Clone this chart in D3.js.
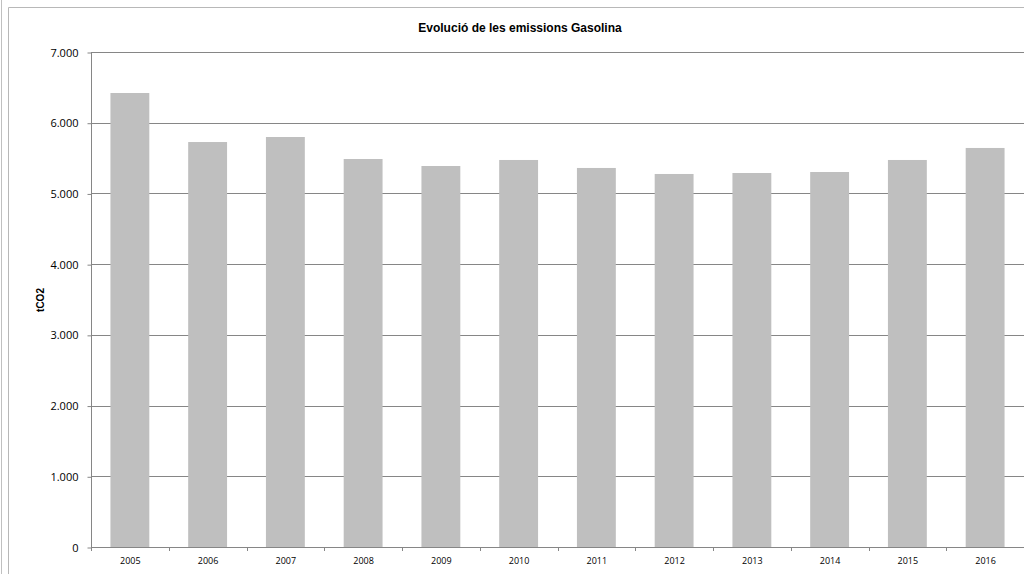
<!DOCTYPE html>
<html><head><meta charset="utf-8">
<script src="https://cdn.jsdelivr.net/npm/d3@7"></script>
<style>body{margin:0;background:#fff;}svg{display:block;}</style>
</head><body><svg width="1024" height="574"></svg>
<script>
const years = ["2005","2006","2007","2008","2009","2010","2011","2012","2013","2014","2015","2016"];
const emissions = [6420, 5727, 5798, 5487, 5388, 5473, 5360, 5275, 5289, 5303, 5473, 5643];
const yTicks = [0,1000,2000,3000,4000,5000,6000,7000];
const title = "Evolució de les emissions Gasolina";
const yLabel = "tCO2";

const svg = d3.select("svg");
const mLeft = 91, mRight = 1024, mTop = 52, mBottom = 547;
// chart frame
svg.append("line").attr("x1",1.5).attr("x2",1.5).attr("y1",0).attr("y2",574).attr("stroke","#c0c0c0");
svg.append("line").attr("x1",8.5).attr("x2",8.5).attr("y1",7.5).attr("y2",574).attr("stroke","#b8b8b8");
svg.append("line").attr("x1",8.5).attr("x2",1024).attr("y1",7.5).attr("y2",7.5).attr("stroke","#b8b8b8");

const x = d3.scaleBand().domain(years).range([mLeft,mRight]).paddingInner(0.5).paddingOuter(0.25);
const y = d3.scaleLinear().domain([0,7000]).range([mBottom,mTop]);
const fmt = d => d3.format(",")(d).replace(/,/g,".");

// gridlines
svg.append("g").selectAll("line").data(yTicks.filter(d=>d>0)).join("line")
  .attr("x1",mLeft).attr("x2",mRight).attr("y1",d=>Math.round(y(d))+0.5).attr("y2",d=>Math.round(y(d))+0.5)
  .attr("stroke","#868686");

// bars
svg.append("g").selectAll("rect").data(years).join("rect")
  .attr("x",d=>x(d)).attr("width",x.bandwidth())
  .attr("y",(d,i)=>y(emissions[i])).attr("height",(d,i)=>mBottom-y(emissions[i]))
  .attr("fill","#bfbfbf");

// y axis
const ya = svg.append("g").attr("transform",`translate(${mLeft+0.5},0.5)`)
  .call(d3.axisLeft(y).tickValues(yTicks).tickFormat(fmt).tickSize(4).tickPadding(9));
ya.select(".domain").attr("stroke","#868686").attr("d",`M0,${mTop}V${mBottom}`);
ya.selectAll(".tick line").attr("stroke","#868686");
ya.selectAll("text").attr("font-family","Open Sans, DejaVu Sans, sans-serif").attr("font-size",11).attr("fill","#000");

// x axis
const xa = svg.append("g").attr("transform",`translate(0.5,${mBottom+0.5})`)
  .call(d3.axisBottom(x).tickSize(0).tickPadding(10));
xa.select(".domain").attr("stroke","#868686").attr("d",`M${mLeft},0H${mRight}`);
xa.selectAll("text").attr("font-family","Open Sans, DejaVu Sans, sans-serif").attr("font-size",9).attr("fill","#000");
// category separator ticks
const step = x.step();
svg.append("g").selectAll("line").data(d3.range(0,years.length+1)).join("line")
  .attr("x1",i=>Math.round(mLeft+i*step)+0.5).attr("x2",i=>Math.round(mLeft+i*step)+0.5)
  .attr("y1",mBottom).attr("y2",mBottom+4).attr("stroke","#868686");

// title
svg.append("text").attr("x",520).attr("y",32).attr("text-anchor","middle")
  .attr("font-family","Liberation Sans, Arial, sans-serif").attr("font-weight","bold").attr("font-size",12)
  .text(title);
// y label
svg.append("text").attr("transform","translate(44,300) rotate(-90)").attr("text-anchor","middle")
  .attr("font-family","Liberation Sans, Arial, sans-serif").attr("font-weight","bold").attr("font-size",10)
  .text(yLabel);
</script></body></html>
